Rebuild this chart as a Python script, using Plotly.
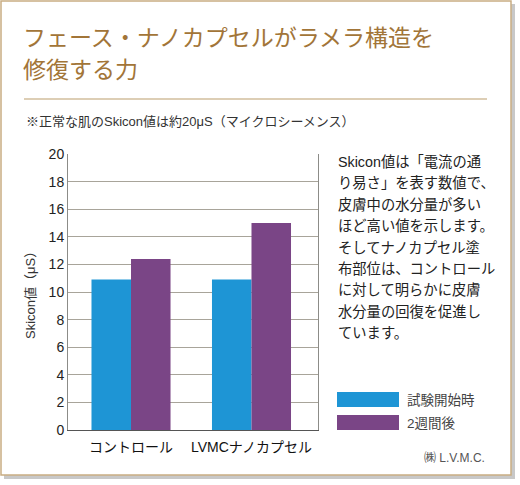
import plotly.graph_objects as go

categories = ["コントロール", "LVMCナノカプセル"]
series_names = ["試験開始時", "2週間後"]
start_values = [10.9, 10.9]
week2_values = [12.4, 15.0]
y_ticks = [0, 2, 4, 6, 8, 10, 12, 14, 16, 18, 20]

title_lines = ["フェース・ナノカプセルがラメラ構造を", "修復する力"]
note = "※正常な肌のSkicon値は約20μS（マイクロシーメンス）"
body_lines = [
    "Skicon値は「電流の通",
    "り易さ」を表す数値で、",
    "皮膚中の水分量が多い",
    "ほど高い値を示します。",
    "そしてナノカプセル塗",
    "布部位は、コントロール",
    "に対して明らかに皮膚",
    "水分量の回復を促進し",
    "ています。",
]
credit = "㈱ L.V.M.C."

BLUE = "#1E95D5"
PURPLE = "#7A4586"
BROWN = "#A27538"
TAN = "#D2BE9C"
FONT = "Liberation Sans, Noto Sans CJK JP"

W, H = 520, 485
L, R, T, B = 68, 318, 154, 430


def px(x):
    return (x - L) / (R - L)


def py(y):
    return (B - y) / (B - T)


fig = go.Figure()
fig.add_trace(go.Bar(x=categories, y=start_values, name=series_names[0],
                     marker=dict(color=BLUE, line=dict(width=0))))
fig.add_trace(go.Bar(x=categories, y=week2_values, name=series_names[1],
                     marker=dict(color=PURPLE, line=dict(width=0))))

shapes = [
    # drop shadow + frame
    dict(type="rect", xref="paper", yref="paper", x0=px(4), x1=px(515), y0=py(4), y1=py(479),
         fillcolor="#C8C8C8", line=dict(width=0), layer="below"),
    dict(type="rect", xref="paper", yref="paper", x0=px(1), x1=px(511), y0=py(1), y1=py(475),
         fillcolor="white", line=dict(color="#C9AD82", width=1.5), layer="below"),
    # separator
    dict(type="line", xref="paper", yref="paper", x0=px(24), x1=px(487), y0=py(99), y1=py(99),
         line=dict(color=TAN, width=1.5)),
    # legend swatches
    dict(type="rect", xref="paper", yref="paper", x0=px(337), x1=px(399), y0=py(392), y1=py(407),
         fillcolor=BLUE, line=dict(width=0)),
    dict(type="rect", xref="paper", yref="paper", x0=px(337), x1=px(399), y0=py(415), y1=py(430),
         fillcolor=PURPLE, line=dict(width=0)),
]

ann = []
for i, t in enumerate(title_lines):
    ann.append(dict(text=t, x=px(21), y=py(38 + i * 32), xanchor="left", yanchor="middle",
                    font=dict(size=23, color=BROWN, family=FONT)))
ann.append(dict(text=note, x=px(24), y=py(122), xanchor="left", yanchor="middle",
                font=dict(size=13, color="#333333", family=FONT)))
for i, t in enumerate(body_lines):
    ann.append(dict(text=t, x=px(336), y=py(162 + i * 21.4), xanchor="left", yanchor="middle",
                    font=dict(size=14.3, color="#222222", family=FONT)))
ann.append(dict(text=series_names[0], x=px(405), y=py(400), xanchor="left", yanchor="middle",
                font=dict(size=13.5, color="#444444", family=FONT)))
ann.append(dict(text=series_names[1], x=px(405), y=py(423), xanchor="left", yanchor="middle",
                font=dict(size=13.5, color="#444444", family=FONT)))
ann.append(dict(text=credit, x=px(487), y=py(458), xanchor="right", yanchor="middle",
                font=dict(size=12, color="#555555", family=FONT)))
ann.append(dict(text="Skicon値（μS）", x=px(30), y=0.5, xanchor="center", yanchor="middle",
                textangle=-90, font=dict(size=13, color="#333333", family=FONT)))
for a in ann:
    a.update(xref="paper", yref="paper", showarrow=False)

fig.update_layout(
    width=W, height=H,
    margin=dict(l=L, r=W - R, t=T, b=H - B, pad=0),
    paper_bgcolor="white",
    plot_bgcolor="#EAE3CF",
    barmode="group", bargap=0.344, bargroupgap=0,
    showlegend=False,
    shapes=shapes,
    annotations=ann,
    font=dict(family=FONT),
    xaxis=dict(range=[-0.523, 1.552], showgrid=False, showline=True, linecolor="#555555",
               linewidth=1, ticks="", ticklabelstandoff=4,
               tickfont=dict(size=14, color="#111111", family=FONT)),
    yaxis=dict(range=[0, 20], tickvals=y_ticks, showgrid=True, gridcolor="#A8A49A", gridwidth=1,
               zeroline=False, showline=True, mirror=True, linecolor="#8C8C88", linewidth=1,
               ticks="", tickfont=dict(size=14, color="#222222", family=FONT)),
)

# the page has a default 8px body margin; remove it so the figure fills the window
fig.write_html("out.html", config={"displayModeBar": False},
               post_script="document.body.style.margin='0';")
